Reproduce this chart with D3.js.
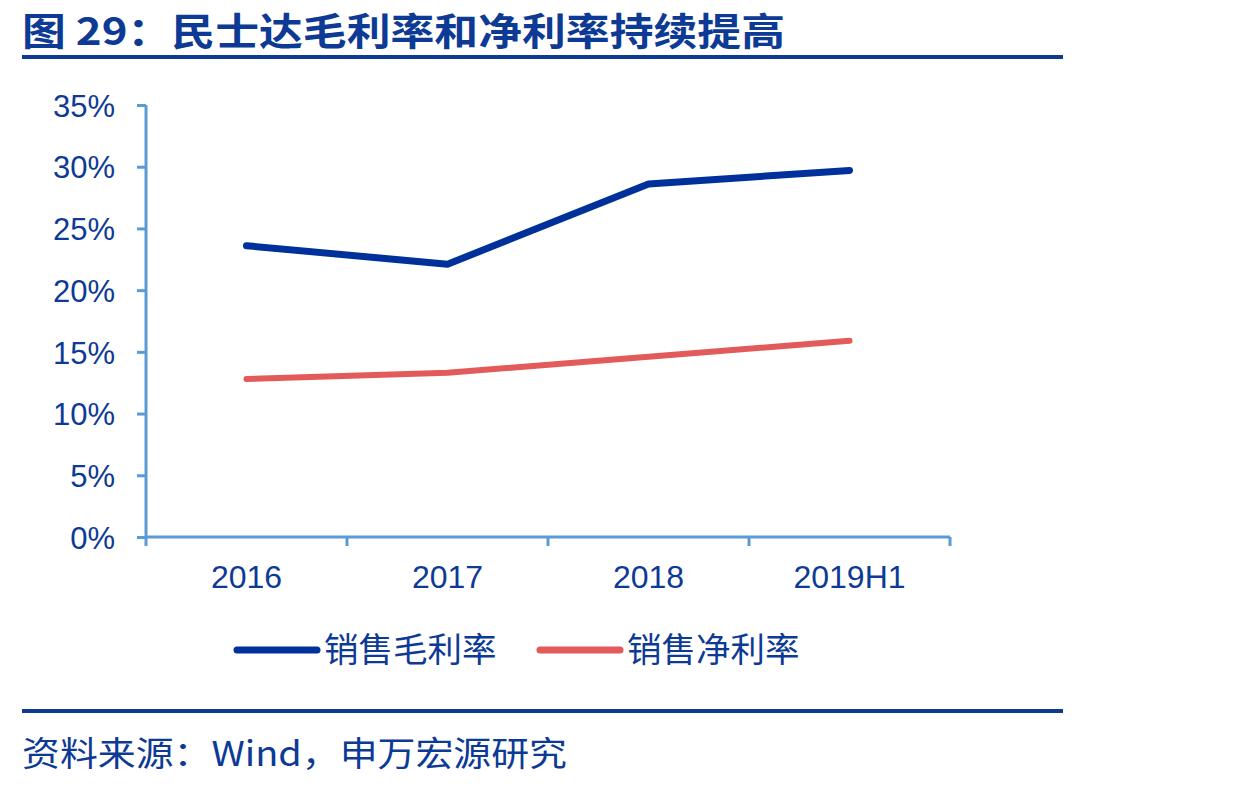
<!DOCTYPE html>
<html>
<head>
<meta charset="utf-8">
<script src="https://cdn.jsdelivr.net/npm/d3@7"></script>
<style>
  body { margin: 0; background: #fff; }
  svg { display: block; }
</style>
</head>
<body>
<div id="chart"></div>
<script>
// data
var categories = ["2016", "2017", "2018", "2019H1"];
var grossMargin = [23.6, 22.1, 28.6, 29.7];
var netMargin = [12.8, 13.3, 14.6, 15.9];
var yTicks = [0, 5, 10, 15, 20, 25, 30, 35];
var seriesNames = ["销售毛利率", "销售净利率"];
var titleText = "图 29：民士达毛利率和净利率持续提高";
var sourceText = "资料来源：Wind，申万宏源研究";

var width = 1234,
    height = 787,
    textColor = "#0d3a94",
    axisColor = "#5b9bd5",
    colors = ["#00309a", "#e25a59"];

var svg = d3.select("#chart").append("svg")
    .attr("width", width)
    .attr("height", height);

// title
svg.append("text")
    .attr("x", 22)
    .attr("y", 45)
    .attr("textLength", 763)
    .attr("lengthAdjust", "spacingAndGlyphs")
    .style("font-family", "'Noto Sans CJK SC', sans-serif")
    .style("font-weight", "bold")
    .style("font-size", "38px")
    .style("fill", textColor)
    .text(titleText);

svg.append("rect")
    .attr("x", 22).attr("y", 55)
    .attr("width", 1041).attr("height", 4)
    .style("fill", "#0d3a94");

// scales
var x = d3.scaleBand().domain(categories).range([146, 950]);
var y = d3.scaleLinear().domain([0, 35]).range([537, 105]);

var xAxis = svg.append("g")
    .attr("transform", "translate(0,537)")
    .call(d3.axisBottom(x).tickSize(0).tickPadding(28));

xAxis.select(".domain").remove();
xAxis.selectAll("text")
    .style("font-family", "'Liberation Sans', Arial, sans-serif")
    .style("font-size", "32px")
    .style("fill", textColor);

// x tick marks at band boundaries
svg.append("g").selectAll("line")
    .data(categories.concat(["end"]))
    .enter().append("line")
    .attr("x1", function(d, i){ return 146 + i * x.step(); })
    .attr("x2", function(d, i){ return 146 + i * x.step(); })
    .attr("y1", 537).attr("y2", 546)
    .style("stroke", axisColor).style("stroke-width", 3);

var yAxis = svg.append("g")
    .attr("transform", "translate(146,0)")
    .call(d3.axisLeft(y).tickValues(yTicks).tickSize(9).tickPadding(22)
        .tickFormat(function(d){ return d + "%"; }));

yAxis.select(".domain").remove();
yAxis.selectAll("line").style("stroke", axisColor).style("stroke-width", 3);
yAxis.selectAll("text")
    .attr("dy", "0.36em")
    .style("font-family", "'Liberation Sans', Arial, sans-serif")
    .style("font-size", "31px")
    .style("fill", textColor);

// axis lines
svg.append("line")
    .attr("x1", 146).attr("x2", 146).attr("y1", 105).attr("y2", 537)
    .style("stroke", axisColor).style("stroke-width", 3);
svg.append("line")
    .attr("x1", 146).attr("x2", 950).attr("y1", 537).attr("y2", 537)
    .style("stroke", axisColor).style("stroke-width", 3);

// lines
var line = d3.line()
    .x(function(d, i){ return x(categories[i]) + x.bandwidth() / 2; })
    .y(function(d){ return y(d); });

[grossMargin, netMargin].forEach(function(s, i){
    svg.append("path")
        .datum(s)
        .attr("d", line)
        .style("fill", "none")
        .style("stroke", colors[i])
        .style("stroke-width", i == 0 ? 7 : 6)
        .style("stroke-linecap", "round")
        .style("stroke-linejoin", "round");
});

// legend
var legendX = [237, 540];
seriesNames.forEach(function(name, i){
    var g = svg.append("g").attr("transform", "translate(" + legendX[i] + ",650)");
    g.append("line")
        .attr("x1", 0).attr("x2", 80).attr("y1", 0).attr("y2", 0)
        .style("stroke", colors[i]).style("stroke-width", 7)
        .style("stroke-linecap", "round");
    g.append("text")
        .attr("x", 87).attr("y", 0).attr("dy", "0.36em")
        .style("font-family", "'Noto Sans CJK SC', sans-serif")
        .style("font-size", "34.5px")
        .style("fill", textColor)
        .text(name);
});

// source
svg.append("rect")
    .attr("x", 22).attr("y", 709)
    .attr("width", 1041).attr("height", 4)
    .style("fill", "#0d3a94");

svg.append("text")
    .attr("x", 22)
    .attr("y", 766)
    .attr("textLength", 545)
    .attr("lengthAdjust", "spacingAndGlyphs")
    .style("font-family", "'Noto Sans CJK SC', sans-serif")
    .style("font-size", "34px")
    .style("fill", textColor)
    .text(sourceText);
</script>
</body>
</html>
